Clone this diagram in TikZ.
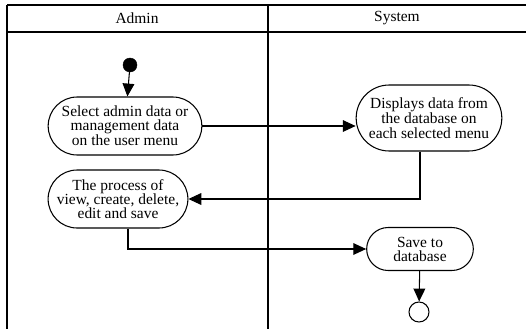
\documentclass[tikz,border=0pt]{standalone}
\usepackage{fontspec}
\setmainfont{Liberation Serif}
\usetikzlibrary{shapes.misc, arrows.meta}

\tikzset{
    act/.style={draw, rounded rectangle, line width=0.9pt, align=center, inner sep=1pt},
    flow/.style={line width=0.9pt, -{Triangle[length=11pt, width=10pt]}},
    lane/.style={line width=1.4pt}
}

\begin{document}
\begin{tikzpicture}[x=0.03cm, y=-0.03cm, font=\fontsize{13.2}{12}\selectfont]
        \useasboundingbox (0, 0) rectangle (526, 329);

        % swimlanes
        \draw[lane] (7, 5) -- (526, 5);
        \draw[lane] (7, 32) -- (526, 32);
        \draw[lane] (7, 5) -- (7, 329);
        \draw[lane] (268, 5) -- (268, 329);

        \node (admin) at (137, 18) {Admin};
        \node (system) at (397, 18) {System};

        \node[draw, circle, fill, inner sep=0pt, minimum size=0.42cm] (start) at (130, 65) {};

        \node[act, minimum width=4.68cm, minimum height=1.74cm] (select) at (125, 126)
            {Select admin data or\\management data\\on the user menu};
        \node[act, minimum width=4.44cm, minimum height=1.98cm] (display) at (429, 118)
            {Displays data from\\the database on\\each selected menu};
        \node[act, minimum width=3.9cm, minimum height=1.74cm] (process) at (118, 199)
            {The process of\\view, create, delete,\\edit and save};
        \node[act, minimum width=3.27cm, minimum height=1.29cm] (save) at (420, 249)
            {Save to\\database};

        \node[draw, circle, line width=0.9pt, inner sep=0pt, minimum size=0.6cm] (end) at (419, 312) {};


        \draw[flow] (start) -- (select);
        \draw[flow] (select.east) -- (select.east -| display.west);
        \draw[flow] (display.south -| save) |- (process.east);
        \draw[flow] ([xshift=0.3cm]process.south) |- (save.west);
        \draw[flow] (save) -- (end);
    \end{tikzpicture}
\end{document}
